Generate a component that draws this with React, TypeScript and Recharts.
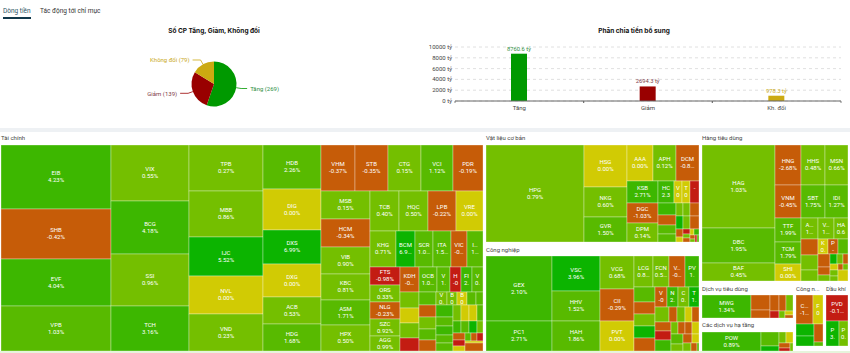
import { PieChart, Pie, Cell, BarChart, Bar, XAxis, YAxis, CartesianGrid, LabelList, Treemap } from 'recharts'

const FONT = 'Roboto, sans-serif'

// pie + bar
const groups = ['Tăng', 'Giảm', 'Không đổi']
const barGroups = ['Tăng', 'Giảm', 'Kh. đổi']
const stockCounts = [269, 139, 79]
const moneyValues = [8760.6, 2694.3, 978.3]
const moneyTicks = [0, 2000, 4000, 6000, 8000, 10000]
const groupColors = ['#009900', '#990000', '#ccaa11']
const groupTextColors = ['#2f8f3f', '#80404a', '#c8a818']

const pieData = groups.map((name, i) => ({ name, value: stockCounts[i] }))
const barData = barGroups.map((name, i) => ({ name, value: moneyValues[i] }))

// treemap colour steps: 0 red, 1 orange, 2 yellow, 3..6 light to deep green
const heatColors = ['#c31c12', '#c65c08', '#d1cb04', '#74bf00', '#58ba00', '#3db700', '#0cb400']

// sectors, sizes are money flow
const finNames = ['EIB', 'SHB', 'EVF', 'VPB', 'VIX', 'BCG', 'SSI', 'TCH', 'TPB', 'MBB', 'IJC', 'NVL', 'VND', 'HDB', 'DIG', 'DXS', 'DXG', 'ACB', 'HDG', 'VHM', 'STB', 'CTG', 'VCI', 'PDR', 'MSB', 'HCM', 'VIB', 'KBC', 'ASM', 'HPX', 'TCB', 'HQC', 'LPB', 'VRE', 'KHG', 'BCM', 'SCR', 'ITA', 'VIC', 'I…', 'FTS', 'ORS', 'NLG', 'SZC', 'AGG', 'KDH', 'OCB', 'V', 'H', 'FI', 'V', '', '', '', '', '', '', '', '', '', 'V', 'B', 'B', '', '', '', '', '', '', '', '', '', '', '', '', '', '', '', '', '', '', '', '', '', '', '']
const finChanges = ['4.23%', '-0.42%', '4.04%', '1.03%', '0.55%', '4.18%', '0.96%', '3.16%', '0.27%', '0.86%', '5.52%', '0.00%', '0.23%', '2.26%', '0.00%', '6.99%', '0.00%', '0.53%', '1.68%', '-0.37%', '-0.35%', '0.15%', '1.12%', '-0.19%', '0.15%', '-0.34%', '0.90%', '0.81%', '1.71%', '0.50%', '0.40%', '0.50%', '-0.22%', '0.00%', '0.71%', '6.9…', '1.0…', '1.5…', '-0…', '1…', '-0.98%', '0.33%', '-0.23%', '0.92%', '0.99%', '-0…', '1.0…', '1.', '-0', '2.', '0.', '', '', '', '', '', '', '', '', '', '0.', '0', '0', '', '', '', '', '', '', '', '', '', '', '', '', '', '', '', '', '', '', '', '', '', '', '']
const finSizes = [7040, 5500, 5170, 4840, 4345, 4110, 4030, 3590, 3420, 3420, 2864, 2834, 2716, 2570, 2360, 1972, 1897, 1583, 1566, 1560, 1530, 1500, 1470, 1450, 1372, 1360, 1340, 1250, 1225, 1225, 1170, 1170, 1131, 1000, 936, 673, 648, 648, 590, 590, 550, 520, 500, 500, 460, 468, 442, 312, 286, 286, 286, 300, 290, 280, 270, 220, 210, 200, 195, 170, 140, 126, 126, 120, 118, 200, 150, 145, 140, 135, 130, 125, 120, 110, 100, 95, 90, 85, 80, 70, 60, 50, 45, 40, 30, 25]
const finHeat = [5, 1, 5, 4, 3, 5, 3, 5, 3, 3, 6, 2, 3, 4, 2, 6, 2, 3, 4, 1, 1, 3, 4, 1, 3, 1, 3, 3, 4, 3, 3, 3, 1, 2, 3, 6, 4, 4, 1, 4, 0, 3, 1, 3, 3, 1, 4, 4, 0, 5, 4, 3, 2, 3, 0, 4, 1, 3, 4, 1, 3, 3, 2, 4, 4, 5, 4, 5, 4, 4, 3, 2, 2, 4, 5, 4, 6, 3, 1, 0, 2, 4, 1, 0, 2, 1]

const matNames = ['HPG', 'HSG', 'NKG', 'GVR', 'AAA', 'APH', 'DCM', 'KSB', 'DGC', 'DPM', 'HC', 'V', 'T', '-', '', '', '', '', '', '', '', '', '', '', '', '', '', '', '', '', '', '', '', '', '']
const matChanges = ['0.79%', '0.00%', '0.60%', '1.50%', '0.00%', '0.12%', '-0.8…', '2.71%', '-1.03%', '0.14%', '2.3', '0', '0', '', '', '', '', '', '', '', '', '', '', '', '', '', '', '', '', '', '', '', '', '', '']
const matSizes = [9412, 1806, 1290, 1075, 935, 815, 780, 680, 620, 580, 352, 176, 176, 176, 221, 170, 153, 153, 96, 96, 96, 96, 96, 96, 55, 40, 35, 30, 28, 25, 25, 20, 15, 12, 10]
const matHeat = [3, 2, 3, 4, 2, 3, 1, 5, 1, 3, 5, 2, 2, 0, 5, 1, 4, 4, 3, 3, 1, 6, 3, 1, 1, 2, 0, 3, 1, 2, 5, 1, 3, 0, 4]

const indNames = ['GEX', 'PC1', 'VSC', 'HHV', 'HAH', 'VCG', 'CII', 'PVT', 'LCG', 'FCN', 'V…', 'PV', '', '', '', '', '', 'V', 'N', 'C', 'T', '', '', '', '', '', '', '', '', '', '', '', '', '', '', '', '', '', '', '', '', '']
const indChanges = ['2.10%', '2.71%', '3.96%', '1.52%', '1.86%', '0.68%', '-0.29%', '0.00%', '0.8…', '0.5…', '-0…', '1.', '', '', '', '', '', '-0', '2.', '0.', '1.', '', '', '', '', '', '', '', '', '', '', '', '', '', '', '', '', '', '', '', '', '']
const indSizes = [4290, 1934, 1670, 1431, 1398, 1112, 1064, 1030, 600, 500, 500, 370, 320, 260, 255, 250, 220, 235, 225, 220, 215, 210, 125, 115, 110, 100, 150, 150, 150, 85, 80, 80, 75, 120, 90, 80, 70, 60, 50, 40, 30, 25]
const indHeat = [5, 5, 6, 4, 4, 3, 1, 2, 3, 3, 1, 5, 4, 1, 3, 6, 1, 1, 5, 3, 6, 3, 1, 3, 2, 1, 1, 0, 5, 3, 1, 1, 2, 4, 3, 1, 2, 3, 1, 4, 2, 0]

const conNames = ['HAG', 'DBC', 'BAF', 'HNG', 'HHS', 'MSN', 'VNM', 'SBT', 'IDI', 'TTF', 'TCM', 'SHI', 'A…', 'V…', 'HA', '', '', '', 'K', 'P', '', '', '', '', '', '', '', '', '', '', '', '', '']
const conChanges = ['1.03%', '1.95%', '0.45%', '-2.68%', '0.48%', '0.66%', '-0.45%', '1.75%', '1.27%', '1.99%', '1.79%', '0.00%', '1…', '1…', '0.6', '', '', '', '0.', '-', '', '', '', '', '', '', '', '', '', '', '', '', '']
const conSizes = [6037, 2533, 1409, 1058, 948, 924, 866, 800, 766, 616, 564, 450, 350, 336, 310, 279, 250, 180, 150, 150, 140, 150, 100, 80, 70, 60, 50, 50, 45, 40, 30, 30, 27]
const conHeat = [3, 4, 3, 1, 3, 3, 1, 4, 4, 4, 4, 2, 3, 3, 3, 1, 3, 3, 2, 1, 4, 1, 1, 3, 6, 3, 1, 2, 3, 3, 1, 3, 2]

const svcNames = ['MWG', '', '', '', '', '', '', '', '', '']
const svcChanges = ['1.34%', '', '', '', '', '', '', '', '', '']
const svcSizes = [1104, 285, 152, 144, 108, 105, 65, 40, 30, 30]
const svcHeat = [5, 1, 1, 1, 1, 3, 0, 3, 2, 1]

const infNames = ['POW', '', '', '', '', '', '', '']
const infChanges = ['0.89%', '', '', '', '', '', '', '']
const infSizes = [1096, 247, 90, 80, 70, 50, 40, 30]
const infHeat = [5, 4, 6, 3, 2, 1, 0, 3]

const itNames = ['C…', 'F', '', '', '', '']
const itChanges = ['-1…', '0', '', '', '', '']
const itSizes = [476, 261, 200, 170, 153, 45]
const itHeat = [1, 2, 6, 6, 1, 4]

const oilNames = ['PVD', 'P', 'P']
const oilChanges = ['-0.1…', '3.', '0.']
const oilSizes = [594, 330, 230]
const oilHeat = [0, 6, 3]

const buildCells = (names: string[], changes: string[], sizes: number[], heat: number[]) =>
  names.map((name, i) => ({ name, change: changes[i], size: sizes[i], heat: heat[i] }))

function HeatCell(props: any) {
  const { x, y, width, height, depth, name, change, heat } = props
  if (depth !== 1) return <g />
  const midX = x + width / 2
  const midY = y + height / 2
  return (
    <g>
      <rect x={x} y={y} width={width} height={height} fill={heatColors[heat]} stroke="#ffffff" strokeOpacity={0.45} strokeWidth={0.7} />
      {name ? (
        <text x={midX} y={midY - 2} textAnchor="middle" fontSize={6} fill="#ffffff" fontFamily={FONT}>{name}</text>
      ) : null}
      {change ? (
        <text x={midX} y={midY + 5} textAnchor="middle" fontSize={6} fill="#ffffff" fontFamily={FONT}>{change}</text>
      ) : null}
    </g>
  )
}

function Sector({ title, left, top, width, height, cells, titleTop, ratio = 1.618 }: any) {
  return (
    <>
      <div style={{ position: 'absolute', left, top: titleTop, fontSize: 6, lineHeight: '10px', color: '#444', whiteSpace: 'nowrap' }}>{title}</div>
      <div style={{ position: 'absolute', left, top, width, height }}>
        <Treemap
          width={width}
          height={height}
          data={cells}
          dataKey="size"
          nameKey="name"
          type="flat"
          aspectRatio={ratio}
          isAnimationActive={false}
          content={<HeatCell />}
        />
      </div>
    </>
  )
}

function pieLabel(props: any) {
  const { cx, cy, midAngle, outerRadius, index, name, value } = props
  const rad = (midAngle * Math.PI) / 180
  const cos = Math.cos(rad)
  const sin = Math.sin(rad)
  const right = cos > 0
  const sx = cx + outerRadius * cos
  const sy = cy - outerRadius * sin
  const mx = cx + (outerRadius + 5) * cos
  const my = cy - (outerRadius + 5) * sin
  const ex = mx + (right ? 6 : -8)
  return (
    <g>
      <path d={`M${sx},${sy}L${mx},${my}L${ex},${my}`} fill="none" stroke={groupColors[index]} strokeWidth={0.8} />
      <text x={ex + (right ? 3 : -3)} y={my + 2.2} textAnchor={right ? 'start' : 'end'} fontSize={6} fontFamily={FONT} fill={groupTextColors[index]}>
        {`${name} (${value})`}
      </text>
    </g>
  )
}

function barLabel(props: any) {
  const { x, y, width, index, value } = props
  return (
    <text x={x + width / 2} y={y - 3} textAnchor="middle" fontSize={5.8} fontFamily={FONT} fill={groupTextColors[index]}>
      {`${value} tỷ`}
    </text>
  )
}

const BAND = 386 / 3

function barTick(props: any) {
  const { x, y, payload } = props
  return (
    <g>
      <line x1={x - BAND / 2} x2={x - BAND / 2} y1={y} y2={y + 2} stroke="#666" strokeWidth={0.8} />
      <line x1={x + BAND / 2} x2={x + BAND / 2} y1={y} y2={y + 2} stroke="#666" strokeWidth={0.8} />
      <text x={x} y={y + 8.5} textAnchor="middle" fontSize={6} fontFamily={FONT} fill="#444">{payload.value}</text>
    </g>
  )
}

function moneyTick(props: any) {
  const { x, y, payload } = props
  return (
    <text x={x - 3} y={y + 2} textAnchor="end" fontSize={6} fontFamily={FONT} fill="#444">{`${payload.value} tỷ`}</text>
  )
}

const titleStyle: any = { position: 'absolute', top: 26, fontSize: 6.5, lineHeight: '10px', fontWeight: 700, color: '#111', fontFamily: 'Inter, sans-serif', textAlign: 'center', whiteSpace: 'nowrap' }

export default function App() {
  return (
    <div style={{ position: 'absolute', left: 0, top: 0, width: 850, height: 353, overflow: 'hidden', background: '#ffffff', fontFamily: FONT }}>
      <div style={{ position: 'absolute', left: 3, top: 6, fontSize: 6.5, lineHeight: '10px', color: '#2b5566' }}>Dòng tiền</div>
      <div style={{ position: 'absolute', left: 3, top: 17, width: 28, height: 1.5, background: '#12384a' }} />
      <div style={{ position: 'absolute', left: 40, top: 6, fontSize: 6.5, lineHeight: '10px', color: '#333' }}>Tác động tới chỉ mục</div>

      <div style={{ ...titleStyle, left: 114, width: 200 }}>Số CP Tăng, Giảm, Không đổi</div>
      <div style={{ ...titleStyle, left: 534, width: 200 }}>Phân chia tiền bổ sung</div>

      <div style={{ position: 'absolute', left: 0, top: 0 }}>
        <PieChart width={425} height={128} margin={{ top: 0, right: 0, bottom: 0, left: 0 }}>
          <Pie
            data={pieData}
            dataKey="value"
            nameKey="name"
            cx={214}
            cy={84}
            outerRadius={22.5}
            startAngle={90}
            endAngle={-270}
            stroke="none"
            label={pieLabel}
            labelLine={false}
            isAnimationActive={false}
          >
            {pieData.map((d, i) => <Cell key={d.name} fill={groupColors[i]} />)}
          </Pie>
        </PieChart>
      </div>

      <div style={{ position: 'absolute', left: 425, top: 0 }}>
        <BarChart width={425} height={128} data={barData} margin={{ top: 47, right: 9, bottom: 0, left: 0 }}>
          <CartesianGrid vertical={false} stroke="#d8d8d8" strokeDasharray="3 3" strokeWidth={0.8} />
          <XAxis dataKey="name" height={27} axisLine={{ stroke: '#666' }} tickLine={false} tickSize={0} tickMargin={0} tick={barTick} interval={0} />
          <YAxis width={30} domain={[0, 10000]} ticks={moneyTicks} interval={0} axisLine={false} tickLine={false} tickSize={0} tickMargin={0} tick={moneyTick} />
          <Bar dataKey="value" barSize={16} isAnimationActive={false}>
            {barData.map((d, i) => <Cell key={d.name} fill={groupColors[i]} />)}
            <LabelList dataKey="value" content={barLabel} />
          </Bar>
        </BarChart>
      </div>

      <div style={{ position: 'absolute', left: 0, top: 128, width: 850, height: 4, background: '#eef1f4' }} />

      <Sector title="Tài chính" left={1} top={145} width={482} height={206} titleTop={133} ratio={1.7} cells={buildCells(finNames, finChanges, finSizes, finHeat)} />
      <Sector title="Vật liệu cơ bản" left={486} top={145} width={213} height={97} titleTop={133} cells={buildCells(matNames, matChanges, matSizes, matHeat)} />
      <Sector title="Công nghiệp" left={486} top={256} width={213} height={95} titleTop={245} cells={buildCells(indNames, indChanges, indSizes, indHeat)} />
      <Sector title="Hàng tiêu dùng" left={702} top={145} width={146} height={136} titleTop={133} cells={buildCells(conNames, conChanges, conSizes, conHeat)} />
      <Sector title="Dịch vụ tiêu dùng" left={702} top={295} width={91} height={23} titleTop={284} cells={buildCells(svcNames, svcChanges, svcSizes, svcHeat)} />
      <Sector title="Các dịch vụ hạ tầng" left={702} top={332} width={91} height={19} titleTop={320} cells={buildCells(infNames, infChanges, infSizes, infHeat)} />
      <Sector title="Công n..." left={796} top={295} width={27} height={51} titleTop={284} cells={buildCells(itNames, itChanges, itSizes, itHeat)} />
      <Sector title="Dầu khí" left={826} top={295} width={22} height={51} titleTop={284} cells={buildCells(oilNames, oilChanges, oilSizes, oilHeat)} />

      <div style={{ position: 'absolute', left: 0, top: 351, width: 850, height: 2, background: '#e6f4dc' }} />
    </div>
  )
}
